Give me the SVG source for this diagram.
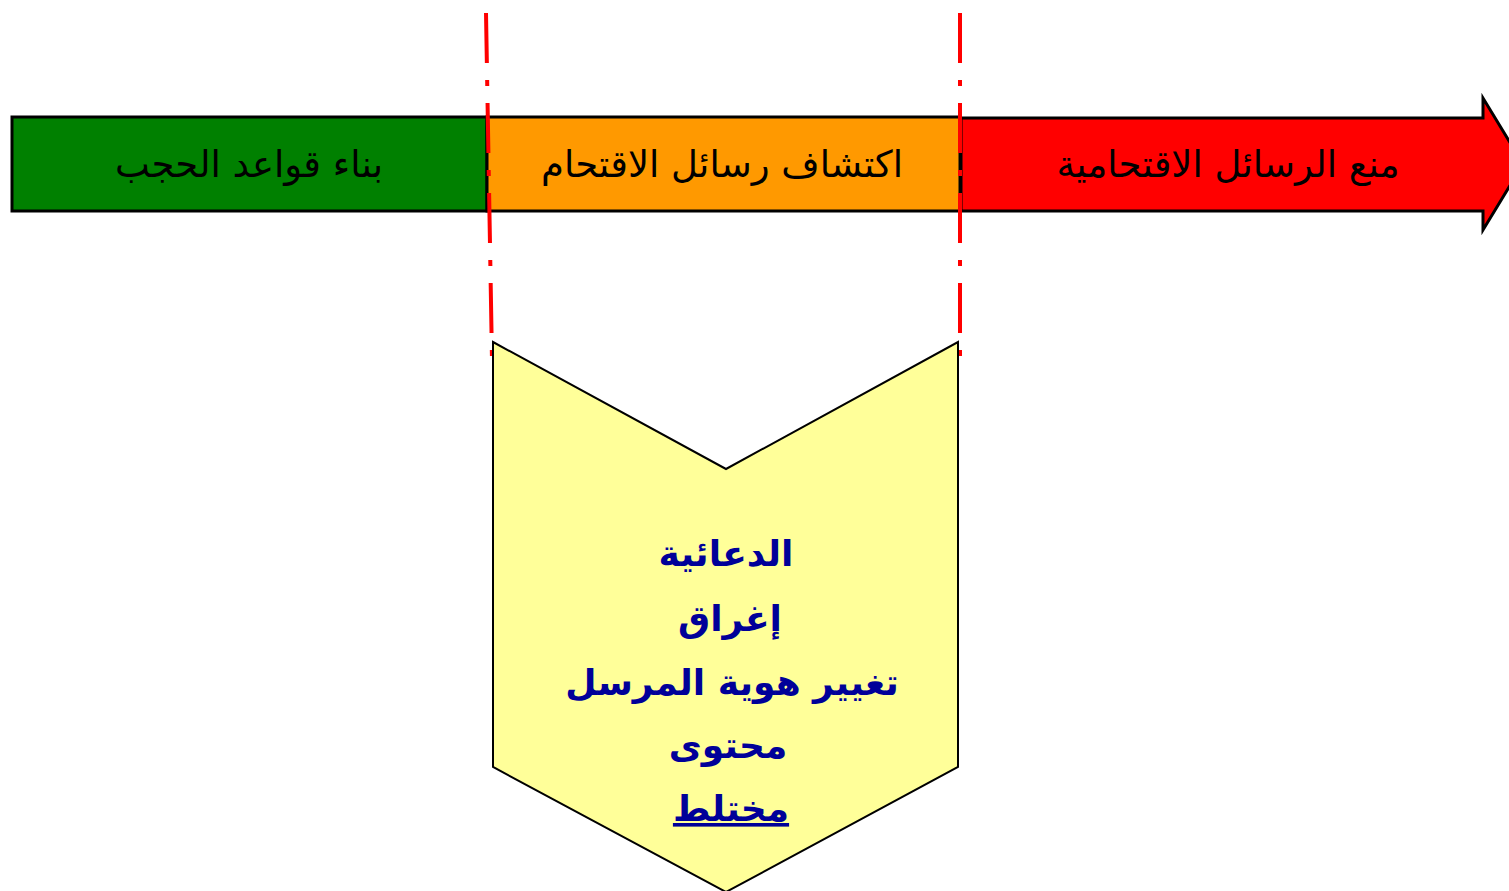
<svg xmlns="http://www.w3.org/2000/svg" width="1509" height="891" viewBox="0 0 1509 891">
<style>
.bar{stroke:#000;stroke-width:3}
.lbl{font-family:"DejaVu Sans","Liberation Sans",sans-serif;font-size:37px;fill:#000;text-anchor:middle;direction:rtl}
.item{font-family:"DejaVu Sans","Liberation Sans",sans-serif;font-size:36px;font-weight:bold;fill:#000099;text-anchor:middle;direction:rtl}
.cut{fill:none;stroke:#ff0000;stroke-width:4;stroke-dasharray:50 17 6 17}
</style>
<rect width="1509" height="891" fill="#fff"/>
<g id="stage-build">
<rect class="bar" x="12" y="117" width="475" height="94" fill="#008000"/>
<text class="lbl" x="249" y="177">بناء قواعد الحجب</text>
</g>
<g id="stage-detect">
<rect class="bar" x="487" y="117" width="473" height="94" fill="#ff9900"/>
<text class="lbl" x="722" y="177">اكتشاف رسائل الاقتحام</text>
</g>
<g id="stage-prevent">
<path class="bar" d="M961,118 H1483 V98 L1523,164 L1483,230 V211 H961 Z" fill="#ff0000"/>
<text class="lbl" x="1228" y="177">منع الرسائل الاقتحامية</text>
</g>
<g id="connectors">
<line class="cut" x1="486" y1="13" x2="492" y2="360"/>
<line class="cut" x1="960" y1="13" x2="960" y2="356"/>
</g>
<g id="techniques">
<path d="M493,342 L726,469 L958,342 V767 L726,892 L493,767 Z" fill="#ffff99" stroke="#000" stroke-width="2"/>
<text class="item" x="726" y="566">الدعائية</text>
<text class="item" x="730" y="631">إغراق</text>
<text class="item" x="732" y="695">تغيير هوية المرسل</text>
<text class="item" x="728" y="758">محتوى</text>
<text class="item" x="731" y="821" text-decoration="underline">مختلط</text>
</g>
</svg>
